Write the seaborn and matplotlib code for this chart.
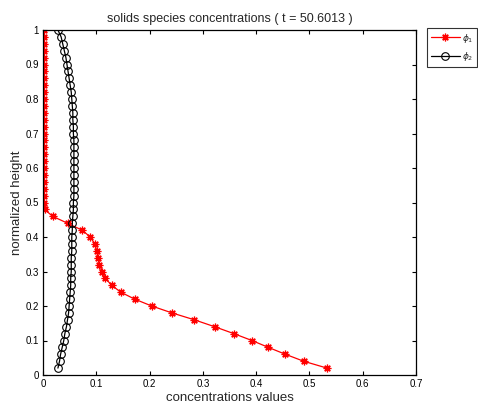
import numpy as np
import pandas as pd
import matplotlib
matplotlib.use("Agg")
import matplotlib.pyplot as plt
import seaborn as sns

sns.set_theme(style="white")
plt.rcParams['font.family'] = ['Liberation Sans', 'DejaVu Sans']

heights = [round(0.02 * i, 2) for i in range(1, 51)]

phi1 = [0.533, 0.489, 0.455, 0.423, 0.392, 0.358, 0.322, 0.284, 0.242, 0.204,
        0.172, 0.146, 0.129, 0.117, 0.111, 0.106, 0.103, 0.101, 0.097, 0.089,
        0.073, 0.046, 0.018, 0.003, 0.002, 0.002, 0.002, 0.002, 0.002, 0.002,
        0.002, 0.002, 0.002, 0.002, 0.002, 0.002, 0.002, 0.002, 0.002, 0.002,
        0.002, 0.002, 0.002, 0.002, 0.002, 0.002, 0.002, 0.002, 0.002, 0.002]

phi2 = [0.028, 0.031, 0.033, 0.036, 0.039, 0.041, 0.044, 0.046, 0.048, 0.049,
        0.050, 0.051, 0.052, 0.052, 0.053, 0.053, 0.053, 0.054, 0.054, 0.054,
        0.055, 0.055, 0.056, 0.057, 0.057, 0.058, 0.058, 0.058, 0.058, 0.058,
        0.058, 0.058, 0.058, 0.058, 0.057, 0.057, 0.056, 0.056, 0.055, 0.054,
        0.053, 0.051, 0.049, 0.047, 0.045, 0.043, 0.040, 0.037, 0.034, 0.028]

title = "solids species concentrations ( t = 50.6013 )"
xlabel = "concentrations values"
ylabel = "normalized height"
labels = [r"$\phi_1$", r"$\phi_2$"]
xticks = [0, 0.1, 0.2, 0.3, 0.4, 0.5, 0.6, 0.7]
yticks = [0, 0.1, 0.2, 0.3, 0.4, 0.5, 0.6, 0.7, 0.8, 0.9, 1]

df1 = pd.DataFrame({"x": phi1, "y": heights})
df2 = pd.DataFrame({"x": phi2, "y": heights})

fig = plt.figure(figsize=(4.78, 4.09), dpi=100)
ax = fig.add_axes([43/478, 34/409, (416-43)/478, (375-30)/409])

sns.lineplot(data=df1, x="x", y="y", sort=False, estimator=None, ax=ax,
             color="red", marker=(8, 2, 0), markersize=5.5, markeredgecolor="red",
             markerfacecolor="red", markeredgewidth=0.9, linewidth=0.9, label=labels[0])
sns.lineplot(data=df2, x="x", y="y", sort=False, estimator=None, ax=ax,
             color="black", marker="o", markersize=5.5, markeredgecolor="black",
             markerfacecolor="none", markeredgewidth=0.8, linewidth=0.9, label=labels[1])

ax.set_xlim(0, 0.7)
ax.set_ylim(0, 1)
ax.set_xticks(xticks)
ax.set_yticks(yticks)
ax.set_xticklabels([f"{t:g}" for t in xticks])
ax.set_yticklabels([f"{t:g}" for t in yticks])
ax.tick_params(direction="in", length=3, width=0.8, labelsize=7, colors="black",
               top=True, right=True, bottom=True, left=True, pad=3)
for s in ax.spines.values():
    s.set_color("black")
    s.set_linewidth(0.9)
ax.set_title(title, fontsize=9, pad=6)
ax.set_xlabel(xlabel, fontsize=9.5, labelpad=2)
ax.set_ylabel(ylabel, fontsize=9.5, labelpad=2)

leg = ax.legend(loc="upper left", bbox_to_anchor=(427/478, 381/409),
                bbox_transform=fig.transFigure, fontsize=6.5, frameon=True,
                fancybox=False, edgecolor="black", handlelength=3.2,
                borderpad=0.4, labelspacing=0.6, handletextpad=0.3,
                borderaxespad=0)
leg.get_frame().set_linewidth(0.8)

fig.savefig("out.png", dpi=100)
